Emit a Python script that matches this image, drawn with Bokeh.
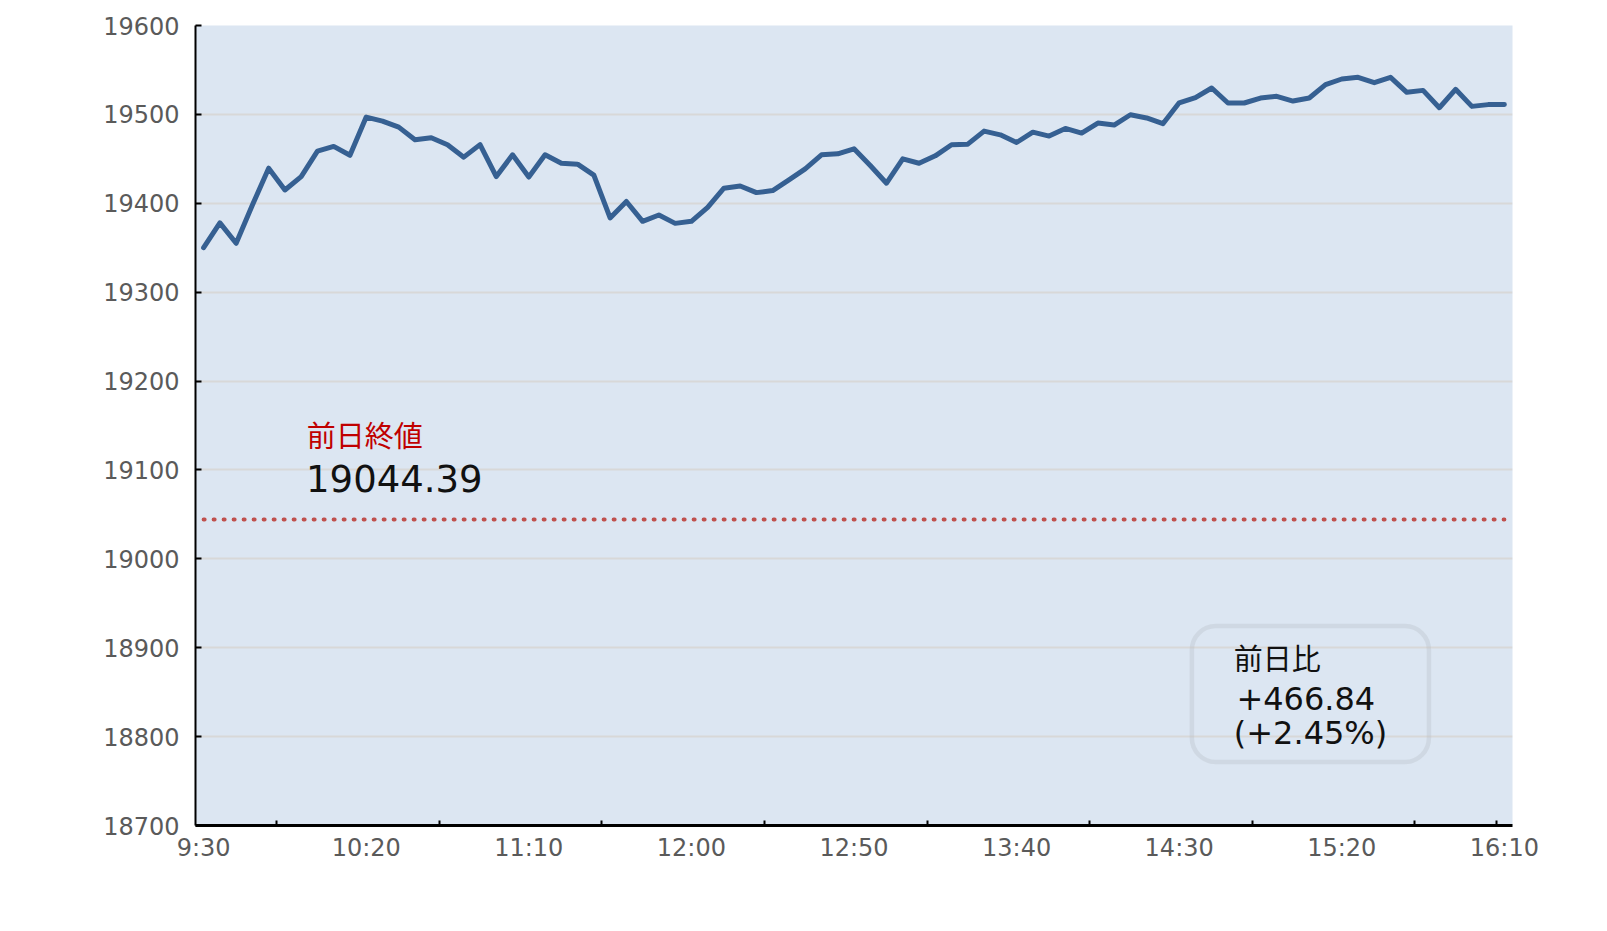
from bokeh.plotting import figure
from bokeh.models import Range1d, FixedTicker, Label, BoxAnnotation
from bokeh.embed import file_html
from bokeh.resources import INLINE

# ---- data ----
minutes = list(range(0, 405, 5))  # 9:30 .. 16:10, 5-minute steps
values = [
    19350, 19378, 19355, 19398, 19439.5, 19415, 19430, 19458.6, 19464, 19454,
    19497, 19492.5, 19485.7, 19471.4, 19473.7, 19465.8, 19451.9, 19466, 19430, 19454.5,
    19429.5, 19454.5, 19445, 19444, 19431.6, 19383.5, 19402, 19379.7, 19386.8, 19377.4,
    19379.7, 19395.5, 19417, 19419.5, 19412, 19414.3, 19426.3, 19438.7, 19454.5, 19455.6,
    19461.3, 19442.5, 19422.6, 19450, 19445, 19453.4, 19465.8, 19466.5, 19481.2, 19477,
    19468.4, 19480, 19475.6, 19484.2, 19479, 19490.2, 19488, 19499.6, 19496, 19489.5,
    19513, 19518.8, 19529.7, 19512.8, 19512.8, 19518.4, 19520.3, 19515, 19518.4, 19533.5,
    19539.8, 19541.7, 19535.7, 19541.7, 19524.8, 19527, 19507.5, 19528.2, 19509, 19511,
    19511.23,
]
prev_close = 19044.39
x_label_pos = [0, 50, 100, 150, 200, 250, 300, 350, 400]
x_labels = ["9:30", "10:20", "11:10", "12:00", "12:50", "13:40", "14:30", "15:20", "16:10"]
x_tick_marks = [22.5, 72.5, 122.5, 172.5, 222.5, 272.5, 322.5, 372.5, 397.5]
y_ticks = [18700, 18800, 18900, 19000, 19100, 19200, 19300, 19400, 19500, 19600]

LATIN = "DejaVu Sans, Noto Sans CJK JP"
CJK = "Noto Sans CJK JP"

p = figure(width=1590, height=910, output_backend="svg", toolbar_location=None,
           x_range=Range1d(-2.5, 402.5), y_range=Range1d(18700, 19600),
           min_border_left=195, min_border_right=78, min_border_top=25,
           min_border_bottom=85)
p.background_fill_color = "#dce6f2"
p.border_fill_color = "white"
p.outline_line_color = None
p.xgrid.visible = False
p.ygrid.ticker = FixedTicker(ticks=y_ticks)
p.ygrid.grid_line_color = "#d8d8d8"
p.ygrid.grid_line_width = 2

xa = p.xaxis[0]
xa.ticker = FixedTicker(ticks=x_label_pos, minor_ticks=x_tick_marks)
xa.major_label_overrides = dict(zip(x_label_pos, x_labels))
xa.major_tick_line_color = None
xa.major_tick_in = 0
xa.major_tick_out = 0
xa.minor_tick_in = 5
xa.minor_tick_out = 0
xa.minor_tick_line_color = "black"
xa.minor_tick_line_width = 2
xa.axis_line_color = "black"
xa.axis_line_width = 3
xa.major_label_standoff = 8
xa.major_label_text_font = LATIN
xa.major_label_text_font_size = "24px"
xa.major_label_text_color = "#5a5a5a"

ya = p.yaxis[0]
ya.ticker = FixedTicker(ticks=y_ticks)
ya.major_tick_in = 6
ya.major_tick_out = 0
ya.major_tick_line_color = "black"
ya.major_tick_line_width = 2
ya.minor_tick_line_color = None
ya.axis_line_color = "black"
ya.axis_line_width = 2
ya.major_label_standoff = 16
ya.major_label_text_font = LATIN
ya.major_label_text_font_size = "24px"
ya.major_label_text_color = "#5a5a5a"

# previous close dotted line
p.line([minutes[0], minutes[-1]], [prev_close, prev_close], line_color="#c0504d",
       line_width=4, line_dash="1 9", line_cap="round")

# index line
p.line(minutes, values, line_color="#366092", line_width=5, line_join="round",
       line_cap="round")

# annotations
p.add_layout(Label(x=31.7, y=19140.5, text="前日終値", text_font=CJK,
                   text_font_size="29px", text_color="#c00000",
                   text_baseline="middle", text_align="left"))
p.add_layout(Label(x=31.5, y=19090.3, text=f"{prev_close:.2f}", text_font=LATIN,
                   text_font_size="37px", text_color="#111111",
                   text_baseline="middle", text_align="left"))

diff = values[-1] - prev_close
pct = diff / prev_close * 100
p.add_layout(BoxAnnotation(left=303.9, right=376.8, top=18924.4, bottom=18771.4,
                           fill_color=None, fill_alpha=0, line_color="#b4b9bf",
                           line_width=4.5, border_radius=24))
p.add_layout(Label(x=316.8, y=18889.6, text="前日比", text_font=CJK,
                   text_font_size="29px", text_color="#111111",
                   text_baseline="middle", text_align="left"))
p.add_layout(Label(x=317.6, y=18843.3, text=f"{diff:+.2f}", text_font=LATIN,
                   text_font_size="32px", text_color="#111111",
                   text_baseline="middle", text_align="left"))
p.add_layout(Label(x=316.8, y=18804.3, text=f"({pct:+.2f}%)", text_font=LATIN,
                   text_font_size="32px", text_color="#111111",
                   text_baseline="middle", text_align="left"))

open("out.html", "w").write(file_html(p, INLINE))
